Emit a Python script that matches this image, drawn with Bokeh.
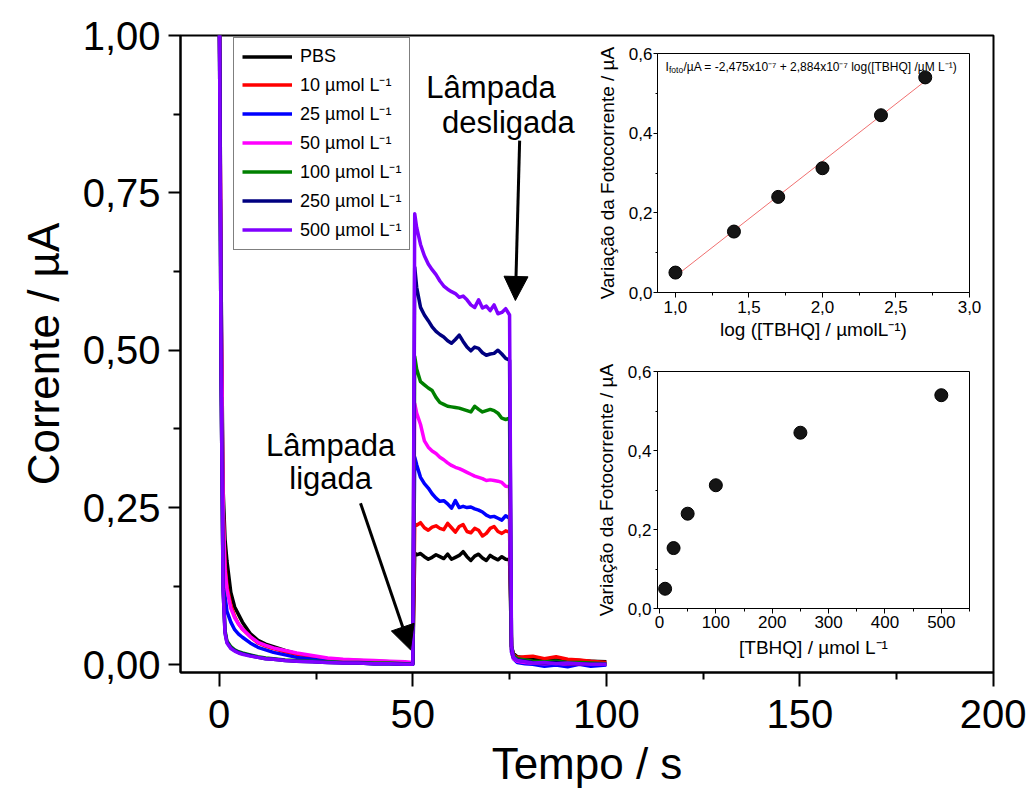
import numpy as np
from bokeh.plotting import figure
from bokeh.models import (FixedTicker, CustomJSTickFormatter, Legend, LegendItem,
                          Arrow, NormalHead, Label, GridBox, Range1d)
from bokeh.embed import file_html
from bokeh.resources import INLINE

FONT = "Liberation Sans"

# ---------------------------------------------------------------- data
# time base (s): dark decay, lamp on (50-75 s), lamp off
TIME = [0, 0.5, 1, 1.5, 2, 3, 4, 5, 6, 8, 10, 12, 14, 17, 20, 24, 28, 32, 36, 40, 44, 48, 50,
        50.5, 51, 52, 53, 54, 55, 56, 57, 58, 59, 60, 61, 62, 63, 64, 65, 66, 67, 68, 69, 70,
        71, 72, 73, 74, 75,
        75.5, 76, 77, 79, 81, 84, 87, 90, 93, 96, 100]

# current (µA) for each TBHQ concentration
I_PBS = [1.10, 0.60, 0.28, 0.20, 0.165, 0.115, 0.092, 0.080, 0.068, 0.050, 0.039, 0.033, 0.029,
         0.023, 0.018, 0.013, 0.010, 0.008, 0.007, 0.006, 0.005, 0.003, 0.003,
         0.178, 0.175, 0.177, 0.172, 0.168, 0.171, 0.175, 0.172, 0.169, 0.176, 0.168, 0.171,
         0.174, 0.180, 0.172, 0.166, 0.173, 0.176, 0.170, 0.166, 0.174, 0.170, 0.167, 0.172,
         0.168, 0.167,
         0.030, 0.018, 0.013, 0.011, 0.010, 0.009, 0.008, 0.008, 0.007, 0.006, 0.005]
I_10 = [1.10, 0.55, 0.25, 0.16, 0.125, 0.095, 0.077, 0.065, 0.057, 0.045, 0.035, 0.030, 0.026,
        0.021, 0.017, 0.013, 0.010, 0.008, 0.006, 0.005, 0.004, 0.003, 0.003,
        0.224, 0.222, 0.226, 0.218, 0.214, 0.219, 0.221, 0.217, 0.215, 0.225, 0.218, 0.211,
        0.220, 0.223, 0.212, 0.210, 0.217, 0.214, 0.205, 0.209, 0.217, 0.220, 0.212, 0.209,
        0.213, 0.211,
        0.028, 0.016, 0.012, 0.013, 0.014, 0.010, 0.013, 0.009, 0.008, 0.006, 0.004]
I_25 = [1.10, 0.50, 0.20, 0.11, 0.085, 0.068, 0.056, 0.049, 0.044, 0.035, 0.028, 0.024, 0.020,
        0.016, 0.012, 0.009, 0.006, 0.004, 0.003, 0.002, 0.002, 0.001, 0.001,
        0.330, 0.318, 0.298, 0.288, 0.281, 0.272, 0.265, 0.260, 0.261, 0.256, 0.249, 0.261,
        0.250, 0.252, 0.250, 0.251, 0.248, 0.246, 0.243, 0.238, 0.235, 0.236, 0.233, 0.230,
        0.237, 0.233,
        0.020, 0.010, 0.004, 0.002, 0.001, -0.002, 0.000, -0.003, 0.001, -0.002, 0.000]
I_50 = [1.10, 0.58, 0.25, 0.15, 0.12, 0.09, 0.075, 0.065, 0.057, 0.045, 0.036, 0.031, 0.027,
        0.023, 0.019, 0.015, 0.011, 0.009, 0.008, 0.007, 0.006, 0.005, 0.004,
        0.415, 0.400, 0.382, 0.356, 0.346, 0.340, 0.336, 0.330, 0.326, 0.321, 0.317, 0.314,
        0.312, 0.309, 0.306, 0.303, 0.300, 0.298, 0.296, 0.293, 0.294, 0.293, 0.292, 0.290,
        0.284, 0.283,
        0.022, 0.010, 0.006, 0.004, 0.003, 0.002, 0.003, 0.001, 0.002, 0.001, 0.001]
I_100 = [1.10, 0.45, 0.13, 0.055, 0.038, 0.029, 0.024, 0.021, 0.019, 0.016, 0.013, 0.011, 0.010,
         0.008, 0.007, 0.006, 0.005, 0.004, 0.004, 0.003, 0.003, 0.002, 0.002,
         0.490, 0.470, 0.450, 0.445, 0.440, 0.436, 0.425, 0.417, 0.414, 0.411, 0.410, 0.409,
         0.408, 0.406, 0.404, 0.402, 0.411, 0.406, 0.402, 0.404, 0.406, 0.404, 0.400, 0.392,
         0.390, 0.392,
         0.030, 0.015, 0.010, 0.008, 0.006, 0.005, 0.006, 0.004, 0.004, 0.003, 0.002]
I_250 = [1.10, 0.45, 0.12, 0.052, 0.036, 0.027, 0.023, 0.020, 0.018, 0.015, 0.012, 0.010, 0.009,
         0.007, 0.006, 0.005, 0.004, 0.003, 0.003, 0.002, 0.002, 0.001, 0.001,
         0.632, 0.600, 0.568, 0.556, 0.547, 0.537, 0.530, 0.525, 0.521, 0.515, 0.511, 0.517,
         0.524, 0.514, 0.505, 0.499, 0.505, 0.503, 0.496, 0.492, 0.494, 0.495, 0.500, 0.494,
         0.487, 0.484,
         0.025, 0.012, 0.008, 0.006, 0.004, 0.003, 0.004, 0.002, 0.002, 0.001, 0.001]
I_500 = [1.10, 0.45, 0.12, 0.05, 0.035, 0.026, 0.022, 0.019, 0.017, 0.014, 0.012, 0.010, 0.009,
         0.007, 0.006, 0.005, 0.004, 0.003, 0.003, 0.002, 0.002, 0.001, 0.001,
         0.717, 0.695, 0.668, 0.650, 0.637, 0.628, 0.620, 0.610, 0.602, 0.597, 0.593, 0.590,
         0.584, 0.586, 0.580, 0.572, 0.568, 0.580, 0.567, 0.570, 0.563, 0.572, 0.558, 0.560,
         0.566, 0.556,
         0.030, 0.012, 0.007, 0.005, 0.003, 0.004, 0.002, 0.003, 0.002, 0.001, 0.001]

SERIES_LABELS = ["PBS", "10 µmol L⁻¹", "25 µmol L⁻¹", "50 µmol L⁻¹",
                 "100 µmol L⁻¹", "250 µmol L⁻¹", "500 µmol L⁻¹"]
SERIES_COLORS = ["#000000", "#ff0000", "#0000ff", "#ff00ff", "#008000", "#000080", "#8000ff"]
SERIES_DATA = [I_PBS, I_10, I_25, I_50, I_100, I_250, I_500]

# calibration: photocurrent change vs TBHQ concentration
CONC = [10, 25, 50, 100, 250, 500]            # µmol L-1
DELTA_I = [0.050, 0.153, 0.240, 0.312, 0.445, 0.540]   # µA
LOG_CONC = list(np.log10(CONC))

# linear fit printed on the calibration panel (µA)
FIT_INTERCEPT = -0.2475
FIT_SLOPE = 0.2884
FIT_X = [1.0, 2.7]
FIT_Y = [FIT_INTERCEPT + FIT_SLOPE * x for x in FIT_X]

MAIN_X_TICKS = [0, 50, 100, 150, 200]
MAIN_Y_TICKS = [0, 0.25, 0.5, 0.75, 1.0]
LOG_X_TICKS = [1.0, 1.5, 2.0, 2.5, 3.0]
CONC_X_TICKS = [0, 100, 200, 300, 400, 500]
INSET_Y_TICKS = [0, 0.2, 0.4, 0.6]

comma2 = CustomJSTickFormatter(code="return tick.toFixed(2).replace('.', ',');")
comma1 = CustomJSTickFormatter(code="return tick.toFixed(1).replace('.', ',');")


def style_axis(ax, tick_size, label_size, width, major_out, minor_out, tick_standoff, label_standoff):
    ax.axis_line_width = width
    ax.axis_line_color = "black"
    ax.major_tick_line_width = width
    ax.minor_tick_line_width = width
    ax.major_tick_in = 0
    ax.minor_tick_in = 0
    ax.major_tick_out = major_out
    ax.minor_tick_out = minor_out
    ax.major_label_text_font = FONT
    ax.major_label_text_font_size = tick_size
    ax.major_label_text_color = "black"
    ax.major_label_standoff = tick_standoff
    ax.axis_label_text_font = FONT
    ax.axis_label_text_font_size = label_size
    ax.axis_label_text_font_style = "normal"
    ax.axis_label_text_color = "black"
    ax.axis_label_standoff = label_standoff


# ---------------------------------------------------------------- main chronoamperogram
p = figure(width=1026, height=796, x_range=Range1d(-10, 200), y_range=Range1d(-0.012, 1.0),
           output_backend="svg", toolbar_location=None,
           min_border_left=180, min_border_right=33, min_border_top=35, min_border_bottom=124)
p.grid.visible = False
p.outline_line_color = "black"
p.outline_line_width = 2
p.background_fill_color = "white"

p.xaxis.axis_label = "Tempo / s"
p.yaxis.axis_label = "Corrente / µA"
p.xaxis.ticker = FixedTicker(ticks=MAIN_X_TICKS, minor_ticks=[25, 75, 125, 175])
p.yaxis.ticker = FixedTicker(ticks=MAIN_Y_TICKS, minor_ticks=[0.125, 0.375, 0.625, 0.875])
p.yaxis.formatter = comma2
style_axis(p.xaxis[0], "40px", "44px", 2, 14, 7, 13, 8)
style_axis(p.yaxis[0], "40px", "44px", 2, 12, 7, 8, 12)

items = []
for label, color, ys in zip(SERIES_LABELS, SERIES_COLORS, SERIES_DATA):
    r = p.line(TIME, ys, line_color=color, line_width=3.5, line_join="round")
    items.append(LegendItem(label=label, renderers=[r]))

legend = Legend(items=items, location=(53, 422))
legend.label_text_font = FONT
legend.label_text_font_size = "18px"
legend.label_text_color = "black"
legend.glyph_width = 50
legend.glyph_height = 21
legend.label_height = 21
legend.spacing = 5
legend.padding = 8
legend.margin = 0
legend.label_standoff = 8
legend.border_line_color = "black"
legend.border_line_width = 1
legend.background_fill_color = "white"
legend.background_fill_alpha = 1
p.add_layout(legend)

# lamp on / off annotations
p.add_layout(Arrow(end=NormalHead(size=24, fill_color="black", line_color="black"),
                   x_start=36.5, y_start=0.257, x_end=49.4, y_end=0.024,
                   line_width=3, line_color="black"))
p.add_layout(Arrow(end=NormalHead(size=24, fill_color="black", line_color="black"),
                   x_start=77.6, y_start=0.833, x_end=76.5, y_end=0.579,
                   line_width=3, line_color="black"))
for txt, x, y in [("Lâmpada", 28.8, 0.349), ("ligada", 28.8, 0.297),
                  ("Lâmpada", 70.2, 0.917), ("desligada", 74.7, 0.862)]:
    p.add_layout(Label(x=x, y=y, text=txt, text_align="center", text_baseline="alphabetic",
                       text_font=FONT, text_font_size="31px", text_color="black"))


# ---------------------------------------------------------------- calibration insets
def inset(x_range, left, right, bottom, height):
    f = figure(width=400, height=height, x_range=x_range, y_range=Range1d(0, 0.6),
               output_backend="svg", toolbar_location=None,
               min_border_left=left, min_border_right=right, min_border_top=13,
               min_border_bottom=bottom)
    f.grid.visible = False
    f.border_fill_color = None
    f.background_fill_color = "white"
    f.outline_line_color = "black"
    f.outline_line_width = 1
    f.yaxis.ticker = FixedTicker(ticks=INSET_Y_TICKS, minor_ticks=[0.1, 0.3, 0.5])
    f.yaxis.formatter = comma1
    f.yaxis.axis_label = "Variação da Fotocorrente / µA"
    return f


ins1 = inset(Range1d(0.878, 3.0), 69, 19, 62, 314)
ins1.xaxis.ticker = FixedTicker(ticks=LOG_X_TICKS, minor_ticks=[1.25, 1.75, 2.25, 2.75])
ins1.xaxis.formatter = comma1
ins1.xaxis.axis_label = "log ([TBHQ] / µmolL⁻¹)"
style_axis(ins1.xaxis[0], "17px", "19px", 1, 5, 3, 3, 3)
style_axis(ins1.yaxis[0], "17px", "19px", 1, 4, 2, 1, 8)
ins1.line(FIT_X, FIT_Y, line_color="#f07070", line_width=1)
ins1.scatter(LOG_CONC, DELTA_I, size=13, fill_color="#151515", line_color="black")

eq_x, eq_y = 0.932, 0.565
ins1.add_layout(Label(x=eq_x, y=eq_y, text="I", text_baseline="middle",
                      text_font=FONT, text_font_size="12px", text_color="black"))
ins1.add_layout(Label(x=eq_x, y=eq_y, x_offset=3.5, y_offset=-3, text="foto",
                      text_baseline="middle", text_font=FONT, text_font_size="8.5px",
                      text_color="black"))
ins1.add_layout(Label(x=eq_x, y=eq_y, x_offset=18,
                      text="/µA = -2,475x10⁻⁷ + 2,884x10⁻⁷ log([TBHQ] /µM L⁻¹)",
                      text_baseline="middle", text_font=FONT, text_font_size="12px",
                      text_color="black"))

ins2 = inset(Range1d(-3.5, 550), 65, 16, 60, 310)
ins2.xaxis.ticker = FixedTicker(ticks=CONC_X_TICKS, minor_ticks=[50, 150, 250, 350, 450, 550])
ins2.xaxis.axis_label = "[TBHQ] / µmol L⁻¹"
style_axis(ins2.xaxis[0], "17px", "19px", 1, 5, 3, 2, 6)
style_axis(ins2.yaxis[0], "17px", "19px", 1, 4, 2, 2, 8)
ins2.scatter(CONC, DELTA_I, size=13, fill_color="#151515", line_color="black")

page = GridBox(children=[(p, 0, 0, 5, 3), (ins1, 1, 1), (ins2, 3, 1)],
               cols=["588px", "400px", "38px"],
               rows=["40px", "314px", "4px", "310px", "128px"], spacing=0)

open("out.html", "w").write(file_html(page, INLINE))
